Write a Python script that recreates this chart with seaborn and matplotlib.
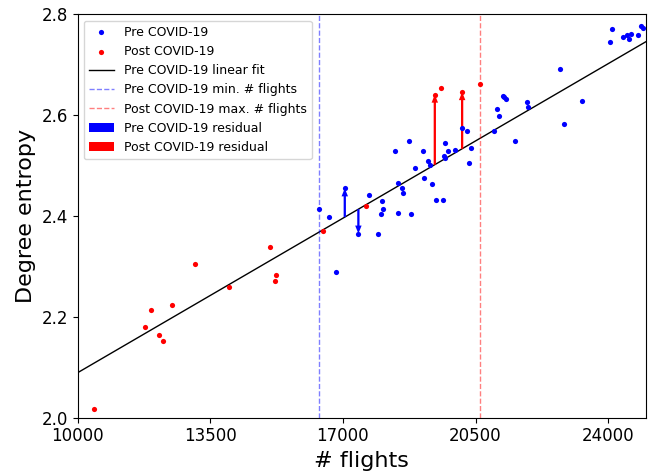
import matplotlib
matplotlib.use("Agg")
import matplotlib.pyplot as plt
import numpy as np
import pandas as pd
import seaborn as sns

# Pre COVID-19 observations: number of flights vs degree entropy
pre_flights = [16370, 16642, 17049, 17408, 17698, 17936, 18041, 18068, 18015, 16827,
               18377, 18448, 18456, 18569, 18596, 18746, 18799, 18897, 19116, 19134,
               19248, 19309, 19361, 19459, 19644, 19705, 19768, 19662, 19697, 19961,
               20153, 20278, 20391, 20330, 20990, 21056, 21128, 21215, 21241, 21299,
               21537, 21862, 21875, 22741, 22846, 23314, 24061, 24114, 24388, 24494,
               24546, 24599, 24779, 24879, 24911]
pre_entropy = [2.414, 2.399, 2.455, 2.365, 2.442, 2.365, 2.430, 2.414, 2.403, 2.289,
               2.530, 2.465, 2.405, 2.455, 2.445, 2.549, 2.403, 2.496, 2.530, 2.475,
               2.510, 2.502, 2.463, 2.432, 2.432, 2.544, 2.530, 2.520, 2.515, 2.532,
               2.574, 2.568, 2.534, 2.506, 2.569, 2.612, 2.598, 2.638, 2.636, 2.633,
               2.548, 2.626, 2.617, 2.692, 2.583, 2.628, 2.746, 2.771, 2.755, 2.759,
               2.751, 2.761, 2.760, 2.778, 2.773]

# Post COVID-19 observations
post_flights = [10430, 11785, 11935, 12146, 12244, 12497, 13097, 13986, 15085, 15235,
                15217, 16484, 17598, 19425, 19583, 20146, 20608]
post_entropy = [2.017, 2.180, 2.213, 2.164, 2.151, 2.223, 2.305, 2.260, 2.338, 2.283,
                2.270, 2.371, 2.420, 2.641, 2.655, 2.646, 2.663]

# Linear fit of the pre COVID-19 data
fit_intercept = 1.6509
fit_slope = 4.381e-5

# Observations whose residuals are highlighted
pre_residual_idx = [2, 3]
post_residual_idx = [13, 15]

x_ticks = [10000, 13500, 17000, 20500, 24000]
y_ticks = [2.0, 2.2, 2.4, 2.6, 2.8]

pre_df = pd.DataFrame({"flights": pre_flights, "entropy": pre_entropy})
post_df = pd.DataFrame({"flights": post_flights, "entropy": post_entropy})

fig = plt.figure(figsize=(6.6, 4.75), dpi=100)
ax = fig.add_axes([0.1177, 0.121, 0.8606, 0.8485])


def fit(x):
    return fit_intercept + fit_slope * x


sns.scatterplot(data=pre_df, x="flights", y="entropy", color="blue", s=14,
                linewidth=0, label="Pre COVID-19", ax=ax, zorder=3)
sns.scatterplot(data=post_df, x="flights", y="entropy", color="red", s=14,
                linewidth=0, label="Post COVID-19", ax=ax, zorder=3)

ax.axline((0, fit_intercept), slope=fit_slope, color="black", lw=1,
          label="Pre COVID-19 linear fit", zorder=2)

ax.axvline(min(pre_flights), color="blue", ls="--", lw=1, alpha=0.5,
           label="Pre COVID-19 min. # flights")
ax.axvline(max(post_flights), color="red", ls="--", lw=1, alpha=0.5,
           label="Post COVID-19 max. # flights")


def residual_arrows(xs, ys, idx, color, label):
    for k, i in enumerate(idx):
        x0 = xs[i]
        y0 = fit(x0)
        ax.arrow(x0, y0, 0, ys[i] - y0, width=60, head_width=170,
                 head_length=0.016, length_includes_head=True,
                 color=color, lw=0, zorder=2.5,
                 label=label if k == 0 else None)


residual_arrows(pre_flights, pre_entropy, pre_residual_idx, "blue",
                "Pre COVID-19 residual")
residual_arrows(post_flights, post_entropy, post_residual_idx, "red",
                "Post COVID-19 residual")

ax.set_xlim(10000, 24990)
ax.set_ylim(2.0, 2.8)
ax.set_xticks(x_ticks)
ax.set_xticklabels([str(t) for t in x_ticks])
ax.set_yticks(y_ticks)
ax.set_yticklabels([f"{t:.1f}" for t in y_ticks])
ax.tick_params(labelsize=12)
ax.set_xlabel("# flights", fontsize=16)
ax.set_ylabel("Degree entropy", fontsize=16)

ax.legend(loc="upper left", fontsize=9, scatterpoints=1)

fig.savefig("out.png", dpi=100)
